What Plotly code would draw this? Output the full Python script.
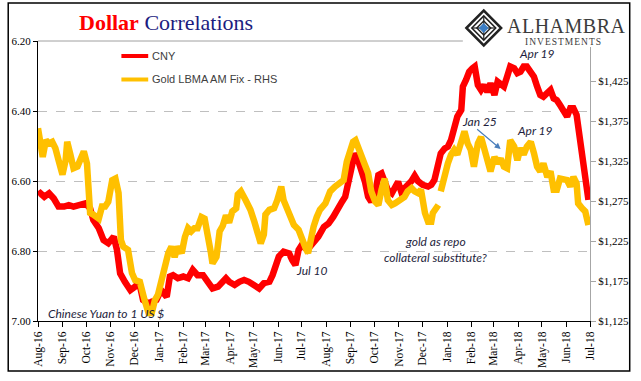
import plotly.graph_objects as go

# ---------------- data ----------------
cny_dates = [
    "2016-08-01", "2016-08-04", "2016-08-09", "2016-08-15", "2016-08-21", "2016-08-27",
    "2016-09-03", "2016-09-09", "2016-09-15", "2016-09-24", "2016-09-30",
    "2016-10-06", "2016-10-10", "2016-10-17", "2016-10-23", "2016-10-29",
    "2016-11-05", "2016-11-09", "2016-11-13", "2016-11-19", "2016-11-26",
    "2016-12-02", "2016-12-07", "2016-12-12", "2016-12-19", "2016-12-23", "2016-12-29",
    "2017-01-04", "2017-01-11", "2017-01-15", "2017-01-19", "2017-01-25",
    "2017-02-01", "2017-02-07", "2017-02-13", "2017-02-19", "2017-02-26",
    "2017-03-04", "2017-03-10", "2017-03-17", "2017-03-23", "2017-03-27", "2017-03-31",
    "2017-04-07", "2017-04-13", "2017-04-19", "2017-04-25",
    "2017-05-02", "2017-05-08", "2017-05-14", "2017-05-21", "2017-05-25", "2017-05-29",
    "2017-06-02", "2017-06-08", "2017-06-15", "2017-06-19", "2017-06-23", "2017-06-27",
    "2017-07-01", "2017-07-08", "2017-07-12", "2017-07-16", "2017-07-22", "2017-07-29",
    "2017-08-04", "2017-08-10", "2017-08-14", "2017-08-21", "2017-08-25", "2017-08-29",
    "2017-09-02", "2017-09-06", "2017-09-11", "2017-09-15", "2017-09-19", "2017-09-23", "2017-09-27",
    "2017-10-02", "2017-10-06", "2017-10-10", "2017-10-14", "2017-10-18", "2017-10-23", "2017-10-27", "2017-10-31",
    "2017-11-04", "2017-11-08", "2017-11-12", "2017-11-17", "2017-11-21", "2017-11-25",
    "2017-12-01", "2017-12-08", "2017-12-12", "2017-12-16", "2017-12-20", "2017-12-24", "2017-12-29",
    "2018-01-02", "2018-01-06", "2018-01-10", "2018-01-14", "2018-01-19", "2018-01-21", "2018-01-25", "2018-01-29",
    "2018-02-02", "2018-02-05", "2018-02-09", "2018-02-13", "2018-02-17", "2018-02-21", "2018-02-25",
    "2018-03-02", "2018-03-06", "2018-03-10", "2018-03-14", "2018-03-18", "2018-03-22", "2018-03-27", "2018-03-31",
    "2018-04-04", "2018-04-08", "2018-04-12", "2018-04-17", "2018-04-21", "2018-04-25", "2018-04-29",
    "2018-05-03", "2018-05-08", "2018-05-12", "2018-05-16", "2018-05-20", "2018-05-24", "2018-05-29",
    "2018-06-02", "2018-06-06", "2018-06-10", "2018-06-14", "2018-06-16", "2018-06-21", "2018-06-25", "2018-06-29",
]
cny_values = [
    6.640, 6.635, 6.645, 6.635, 6.650, 6.673,
    6.673, 6.669, 6.673, 6.669, 6.664,
    6.678, 6.711, 6.735, 6.769, 6.778,
    6.759, 6.797, 6.864, 6.888, 6.912,
    6.902, 6.888, 6.940, 6.950, 6.945, 6.940,
    6.912, 6.931, 6.873, 6.869, 6.878,
    6.873, 6.878, 6.854, 6.869, 6.869,
    6.888, 6.907, 6.902, 6.885, 6.878, 6.888,
    6.897, 6.888, 6.883, 6.888,
    6.897, 6.907, 6.892, 6.888, 6.869, 6.835,
    6.816, 6.802, 6.807, 6.826, 6.840, 6.797,
    6.783, 6.797, 6.788, 6.773, 6.759, 6.731,
    6.721, 6.702, 6.683, 6.659, 6.645, 6.597,
    6.550, 6.521, 6.545, 6.569, 6.602, 6.645, 6.659,
    6.635, 6.583, 6.578, 6.597, 6.626, 6.635, 6.616, 6.602,
    6.631, 6.621, 6.616, 6.600, 6.585, 6.600,
    6.611, 6.616, 6.611, 6.597, 6.559, 6.521, 6.507,
    6.502, 6.483, 6.454, 6.416, 6.397, 6.330, 6.311, 6.288,
    6.278, 6.273, 6.326, 6.340, 6.326, 6.345, 6.321,
    6.354, 6.316, 6.321, 6.330, 6.302, 6.273, 6.278, 6.292,
    6.288, 6.273, 6.273, 6.288, 6.302, 6.330, 6.354,
    6.359, 6.350, 6.340, 6.364, 6.369, 6.383, 6.402,
    6.416, 6.392, 6.392, 6.411, 6.445, 6.502, 6.578, 6.654,
]

gold_dates = [
    "2016-08-01", "2016-08-07", "2016-08-11", "2016-08-15", "2016-08-19", "2016-08-23", "2016-08-27",
    "2016-09-01", "2016-09-05", "2016-09-07", "2016-09-11", "2016-09-15", "2016-09-20", "2016-09-24", "2016-09-28",
    "2016-10-02", "2016-10-04", "2016-10-06", "2016-10-10", "2016-10-17", "2016-10-21", "2016-10-25", "2016-10-29",
    "2016-11-03", "2016-11-07", "2016-11-11", "2016-11-14", "2016-11-17", "2016-11-23", "2016-11-28",
    "2016-12-02", "2016-12-08", "2016-12-14", "2016-12-19", "2016-12-23", "2016-12-27", "2016-12-31",
    "2017-01-04", "2017-01-09", "2017-01-13", "2017-01-17", "2017-01-21", "2017-01-25", "2017-01-30",
    "2017-02-03", "2017-02-07", "2017-02-11", "2017-02-15", "2017-02-19", "2017-02-24", "2017-02-28",
    "2017-03-04", "2017-03-08", "2017-03-10", "2017-03-15", "2017-03-19", "2017-03-23", "2017-03-27", "2017-03-31",
    "2017-04-04", "2017-04-09", "2017-04-11", "2017-04-15", "2017-04-21", "2017-04-27",
    "2017-05-02", "2017-05-06", "2017-05-10", "2017-05-14", "2017-05-16", "2017-05-21", "2017-05-27", "2017-05-31",
    "2017-06-05", "2017-06-08", "2017-06-13", "2017-06-17", "2017-06-21", "2017-06-27",
    "2017-07-01", "2017-07-06", "2017-07-09", "2017-07-12", "2017-07-16", "2017-07-20", "2017-07-24", "2017-07-31",
    "2017-08-06", "2017-08-12", "2017-08-19", "2017-08-23", "2017-08-27", "2017-08-31",
    "2017-09-04", "2017-09-07", "2017-09-11", "2017-09-15", "2017-09-19", "2017-09-23", "2017-09-27",
    "2017-10-02", "2017-10-06", "2017-10-10", "2017-10-14", "2017-10-18", "2017-10-23", "2017-10-27", "2017-10-31",
    "2017-11-04", "2017-11-08", "2017-11-12", "2017-11-17", "2017-11-21", "2017-11-25", "2017-11-29",
    "2017-12-04", "2017-12-08", "2017-12-12", "2017-12-14", "2017-12-16", "2017-12-21", "2017-12-23", "2017-12-24", "2017-12-29",
    "2018-01-02", "2018-01-06", "2018-01-10", "2018-01-14", "2018-01-19", "2018-01-23", "2018-01-27", "2018-01-31",
    "2018-02-04", "2018-02-09", "2018-02-13", "2018-02-17", "2018-02-21", "2018-02-25",
    "2018-03-02", "2018-03-06", "2018-03-10", "2018-03-14", "2018-03-18", "2018-03-22", "2018-03-27", "2018-03-31",
    "2018-04-04", "2018-04-08", "2018-04-12", "2018-04-17", "2018-04-21", "2018-04-25", "2018-04-29",
    "2018-05-03", "2018-05-08", "2018-05-12", "2018-05-16", "2018-05-20", "2018-05-24", "2018-05-29",
    "2018-06-02", "2018-06-06", "2018-06-10", "2018-06-14", "2018-06-16", "2018-06-21", "2018-06-25", "2018-06-29",
]
gold_values = [
    1366, 1330, 1351, 1347, 1349, 1341, 1326,
    1308, 1326, 1349, 1333, 1316, 1318, 1330, 1337,
    1322, 1293, 1260, 1258, 1253, 1268, 1268, 1274,
    1301, 1303, 1285, 1226, 1218, 1214, 1185,
    1176, 1174, 1151, 1135, 1135, 1151, 1158,
    1176, 1197, 1210, 1218, 1205, 1218, 1210,
    1230, 1241, 1237, 1241, 1241, 1255, 1253,
    1235, 1210, 1197, 1205, 1237, 1244, 1257, 1248,
    1262, 1266, 1283, 1287, 1276, 1264,
    1249, 1235, 1222, 1233, 1258, 1264, 1266, 1276,
    1293, 1276, 1262, 1255, 1245, 1239,
    1226, 1216, 1210, 1226, 1243, 1255, 1264, 1272,
    1287, 1293, 1299, 1301, 1324, 1335,
    1349, 1351, 1339, 1328, 1320, 1310, 1287,
    1274, 1270, 1289, 1303, 1276, 1270, 1272, 1274,
    1276, 1280, 1287, 1291, 1287, 1285, 1289,
    1260, 1249, 1249, 1260, 1264, 1270, None, 1287, 1310,
    1322, 1333, 1339, 1333, 1351, 1362, 1347, 1339,
    1318, 1347, 1355, 1339, 1326, 1312,
    1330, 1322, 1328, 1318, 1316, 1351, 1343, 1326,
    1341, 1333, 1343, 1349, 1335, 1318, 1312,
    1322, 1305, 1312, 1289, 1289, 1303, 1301,
    1301, 1293, 1305, 1297, 1272, 1266, 1262, 1245,
]

month_ticks = [
    "2016-08-01", "2016-09-01", "2016-10-01", "2016-11-01", "2016-12-01",
    "2017-01-01", "2017-02-01", "2017-03-01", "2017-04-01", "2017-05-01", "2017-06-01",
    "2017-07-01", "2017-08-01", "2017-09-01", "2017-10-01", "2017-11-01", "2017-12-01",
    "2018-01-01", "2018-02-01", "2018-03-01", "2018-04-01", "2018-05-01", "2018-06-01",
    "2018-07-01",
]
month_labels = [
    "Aug-16", "Sep-16", "Oct-16", "Nov-16", "Dec-16",
    "Jan-17", "Feb-17", "Mar-17", "Apr-17", "May-17", "Jun-17",
    "Jul-17", "Aug-17", "Sep-17", "Oct-17", "Nov-17", "Dec-17",
    "Jan-18", "Feb-18", "Mar-18", "Apr-18", "May-18", "Jun-18",
    "Jul-18",
]
cny_ticks = [6.20, 6.40, 6.60, 6.80, 7.00]
gold_ticks = [1125, 1175, 1225, 1275, 1325, 1375, 1425]

# ---------------- layout helpers ----------------
W, H = 641, 381
PL, PR, PT, PB = 34, 590, 41, 321


def px(x):
    return (x - PL) / (PR - PL)


def py(y):
    return (PB - y) / (PB - PT)


SERIF = "Liberation Serif"
SANS = "Liberation Sans"
ITAL = "Lato"
NOTE_COLOR = "#1e1e3c"

fig = go.Figure()
fig.add_trace(go.Scatter(
    x=cny_dates, y=cny_values, mode="lines", name="CNY",
    line=dict(color="#FF0000", width=6.5), yaxis="y", hoverinfo="skip"))
fig.add_trace(go.Scatter(
    x=gold_dates, y=gold_values, mode="lines", name="Gold LBMA AM Fix - RHS",
    line=dict(color="#FFC000", width=6.5), yaxis="y2", connectgaps=False,
    hoverinfo="skip"))

tickfont = dict(family=SERIF, size=11, color="black")

fig.update_layout(
    width=W, height=H,
    margin=dict(l=PL, r=W - PR, t=PT, b=H - PB),
    paper_bgcolor="white", plot_bgcolor="white",
    showlegend=False,
    xaxis=dict(
        type="date", range=[month_ticks[0], month_ticks[-1]],
        tickvals=month_ticks, ticktext=month_labels, tickangle=-90,
        ticks="outside", ticklen=5, tickcolor="black", tickwidth=1,
        showline=True, linecolor="black", linewidth=1,
        showgrid=False, zeroline=False,
        tickfont=dict(family=SERIF, size=11.5, color="black")),
    yaxis=dict(
        range=[cny_ticks[-1], cny_ticks[0]],
        tickvals=cny_ticks, ticktext=[f"{v:.2f}" for v in cny_ticks],
        ticks="outside", ticklen=4, tickcolor="black",
        showline=True, linecolor="black", linewidth=1,
        showgrid=True, gridcolor="#BFBFBF", griddash="dash", gridwidth=1,
        zeroline=False, tickfont=tickfont),
    yaxis2=dict(
        overlaying="y", side="right", range=[1125, 1475],
        tickvals=gold_ticks, ticktext=[f"${v:,}" for v in gold_ticks],
        ticks="outside", ticklen=5, tickcolor="#A6A6A6",
        showline=True, linecolor="#A6A6A6", linewidth=1,
        showgrid=False, zeroline=False, tickfont=tickfont),
)

shapes = []
# solid top line at 6.20
shapes.append(dict(type="line", xref="paper", yref="paper",
                   x0=0, x1=px(462), y0=1, y1=1,
                   line=dict(color="#A0A0A0", width=1), layer="above"))
# white logo background
shapes.append(dict(type="rect", xref="paper", yref="paper",
                   x0=px(462), x1=px(628), y0=py(47), y1=py(5),
                   fillcolor="white", line=dict(width=0), layer="above"))
# outer frame
shapes.append(dict(type="rect", xref="paper", yref="paper",
                   x0=px(4), x1=px(630), y0=py(371), y1=py(3),
                   line=dict(color="black", width=1.5), fillcolor="rgba(0,0,0,0)",
                   layer="above"))
# legend samples
shapes.append(dict(type="line", xref="paper", yref="paper",
                   x0=px(118), x1=px(145), y0=py(56), y1=py(56),
                   line=dict(color="#FF0000", width=4), layer="above"))
shapes.append(dict(type="line", xref="paper", yref="paper",
                   x0=px(118), x1=px(145), y0=py(79.5), y1=py(79.5),
                   line=dict(color="#FFC000", width=4), layer="above"))


def diamond(cx, cy, r, **kw):
    path = (f"M {px(cx - r)} {py(cy)} L {px(cx)} {py(cy - r)} "
            f"L {px(cx + r)} {py(cy)} L {px(cx)} {py(cy + r)} Z")
    d = dict(type="path", xref="paper", yref="paper", path=path, layer="above")
    d.update(kw)
    return d


# logo icon
LCX, LCY = 483, 28
shapes.append(diamond(LCX, LCY, 17.5, line=dict(color="#222222", width=2.5),
                      fillcolor="white"))
shapes.append(diamond(LCX, LCY, 12, line=dict(color="#222222", width=1.6),
                      fillcolor="rgba(0,0,0,0)"))
shapes.append(diamond(LCX, LCY, 7, line=dict(color="#222222", width=1.4),
                      fillcolor="rgba(0,0,0,0)"))
for (ax0, ay0, ax1, ay1) in [(-12, 0, 12, 0), (0, -12, 0, 12)]:
    shapes.append(dict(type="line", xref="paper", yref="paper",
                       x0=px(LCX + ax0), x1=px(LCX + ax1),
                       y0=py(LCY + ay0), y1=py(LCY + ay1),
                       line=dict(color="#222222", width=1.2), layer="above"))
shapes.append(diamond(LCX, LCY, 4.5, line=dict(color="#3B7DC4", width=1),
                      fillcolor="#3B7DC4"))

fig.update_layout(shapes=shapes)

ann = []
# title
ann.append(dict(xref="paper", yref="paper", x=px(73), y=py(22),
                xanchor="left", yanchor="middle", showarrow=False,
                text="<b><span style='color:#FF0000'>Dollar</span></b> "
                     "<span style='color:#1c1c80'>Correlations</span>",
                font=dict(family=SERIF, size=22)))
# logo text
ann.append(dict(xref="paper", yref="paper", x=px(504), y=py(26),
                xanchor="left", yanchor="middle", showarrow=False,
                text="<span style='letter-spacing:0.5px'>ALHAMBRA</span>",
                font=dict(family=SERIF, size=20, color="#3c3c3c")))
ann.append(dict(xref="paper", yref="paper", x=px(563), y=py(42),
                xanchor="center", yanchor="middle", showarrow=False,
                text="<span style='letter-spacing:1px'>INVESTMENTS</span>",
                font=dict(family=SERIF, size=9.5, color="#3c3c3c")))
# legend text
ann.append(dict(xref="paper", yref="paper", x=px(147), y=py(56),
                xanchor="left", yanchor="middle", showarrow=False,
                text="CNY", font=dict(family=SANS, size=11, color="#404040")))
ann.append(dict(xref="paper", yref="paper", x=px(147), y=py(79.5),
                xanchor="left", yanchor="middle", showarrow=False,
                text="Gold LBMA AM Fix - RHS",
                font=dict(family=SANS, size=11, color="#404040")))


def note(text, x, y, anchor="center"):
    ann.append(dict(xref="paper", yref="paper", x=px(x), y=py(y),
                    xanchor=anchor, yanchor="middle", showarrow=False,
                    text=f"<i>{text}</i>",
                    font=dict(family=ITAL, size=12, color=NOTE_COLOR)))


note("Apr 19", 537, 54)
note("Jan 25", 479, 121)
note("Apr 19", 535, 130)
note("Jul 10", 309, 270)
note("gold as repo", 434, 241)
note("collateral substitute?", 434, 257)
note("Chinese Yuan to 1 US $", 42, 313, anchor="left")

# arrow for Jan 25
ann.append(dict(xref="paper", yref="paper", x=px(500), y=py(149),
                ax=-25, ay=-21, text="", showarrow=True,
                arrowhead=2, arrowsize=1, arrowwidth=1.2, arrowcolor="#4A7EBB"))

fig.update_layout(annotations=ann)

fig.write_html(
    "out.html",
    config={"displayModeBar": False},
    post_script="document.body.style.margin='0px';document.body.style.overflow='hidden';",
)
